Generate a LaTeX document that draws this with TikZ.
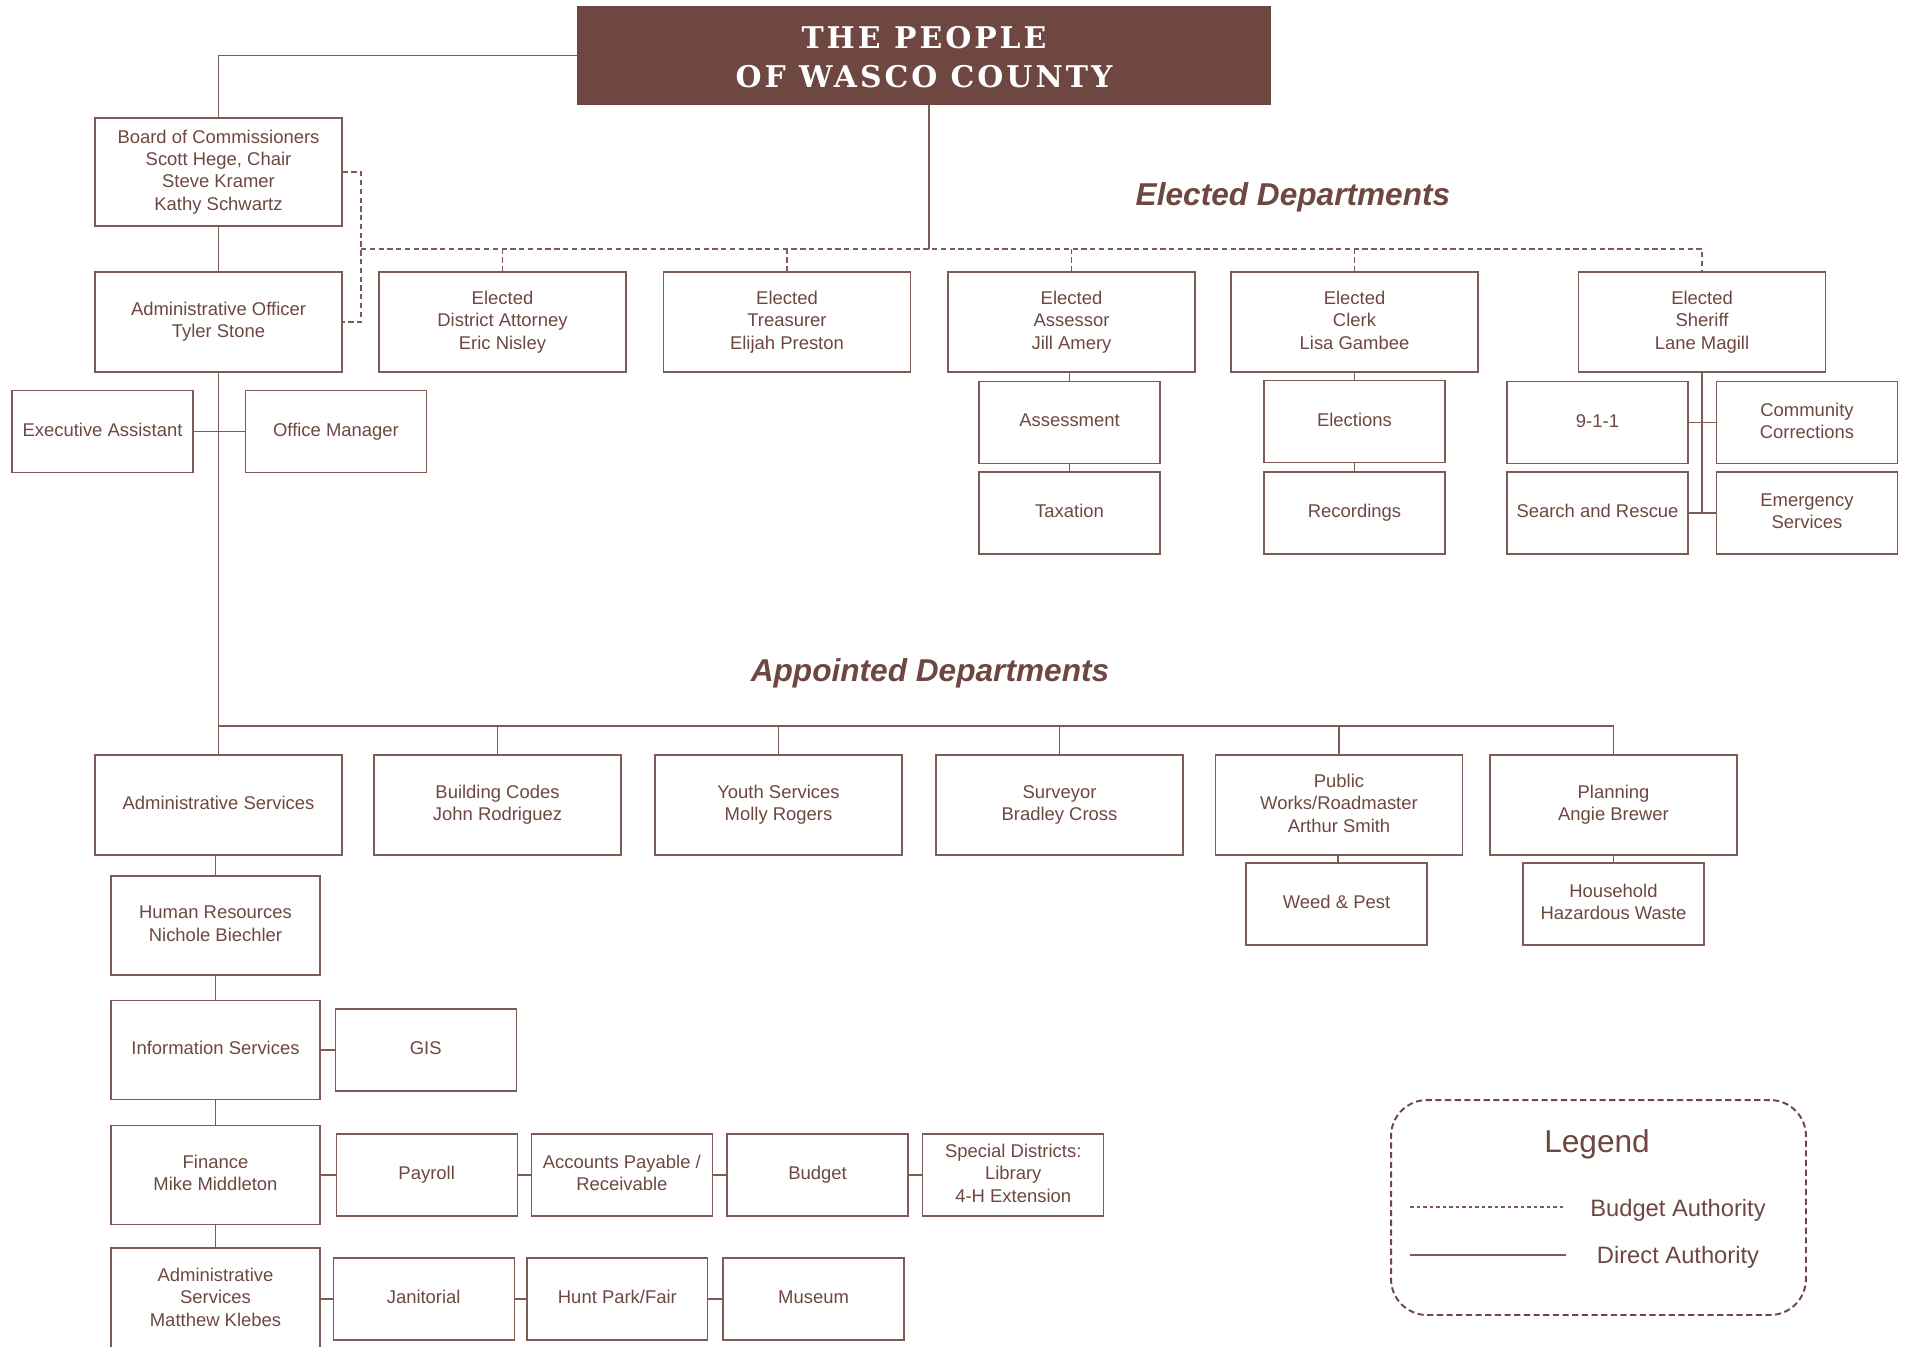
\documentclass[tikz,border=0pt]{standalone}
\usepackage{fontspec}
\setmainfont{Liberation Sans}
\newfontfamily\titlefont[LetterSpace=10]{DejaVu Serif}
\usetikzlibrary{positioning}
\definecolor{wbrown}{RGB}{110,71,65}
\definecolor{wline}{RGB}{125,92,86}
\tikzset{>=stealth,
  dept/.style={draw=wline,line width=0.7pt,text=wbrown,align=center,
    font=\fontsize{10.5}{12.7}\selectfont,minimum width=4.94cm,minimum height=2cm,inner sep=0pt,
    execute at end node=\vphantom{g}},
  unit/.style={dept,minimum width=3.62cm,minimum height=1.64cm},
  staff/.style={dept,minimum width=4.18cm,minimum height=1.98cm},
  direct/.style={draw=wline,line width=0.6pt},
  budget/.style={draw=wline,line width=0.6pt,dash pattern=on 3pt off 2pt},
  heading/.style={text=wbrown,font=\fontsize{18}{21}\selectfont\bfseries\itshape},
  legendtext/.style={text=wbrown,font=\fontsize{13.5}{16}\selectfont}}
\begin{document}
\begin{tikzpicture}[x=0.02cm,y=-0.02cm]
\useasboundingbox (0,0) rectangle (1906,1346);
\node[fill=wbrown,minimum width=13.88cm,minimum height=1.98cm,text=white,align=center,
  font=\titlefont\fontsize{17}{22.5}\selectfont\bfseries] (people) at (924,55.5) {\rule{0pt}{14.4pt}THE PEOPLE\\OF WASCO COUNTY};

\node[dept,minimum height=2.16cm] (board) at (218.5,172) {Board of Commissioners\\Scott Hege, Chair\\Steve Kramer\\Kathy Schwartz};
\node[dept] (officer) at (218.5,322) {Administrative Officer\\Tyler Stone};
\node[dept] (da) at (502.5,322) {Elected\\District Attorney\\Eric Nisley};
\node[dept] (treasurer) at (787,322) {Elected\\Treasurer\\Elijah Preston};
\node[dept] (assessor) at (1071.5,322) {Elected\\Assessor\\Jill Amery};
\node[dept] (clerk) at (1354.5,322) {Elected\\Clerk\\Lisa Gambee};
\node[dept] (sheriff) at (1702,322) {Elected\\Sheriff\\Lane Magill};

\node[unit] (assessment) at (1069.5,422.5) {Assessment};
\node[unit] (taxation) at (1069.5,513) {Taxation};
\node[unit] (elections) at (1354.5,421.5) {Elections};
\node[unit] (recordings) at (1354.5,513) {Recordings};
\node[unit] (e911) at (1597.5,422.5) {9-1-1};
\node[unit] (corrections) at (1807,422.5) {Community\\Corrections};
\node[unit] (rescue) at (1597.5,513) {Search and Rescue};
\node[unit] (emergency) at (1807,513) {Emergency\\Services};
\node[unit] (exec) at (102.5,431.5) {Executive Assistant};
\node[unit] (office) at (336,431.5) {Office Manager};

\node[heading] (elected) at (1293,197.5) {Elected Departments};
\node[heading] (appointed) at (930,673.5) {Appointed Departments};

\node[dept] (adminsvc) at (218.5,805) {Administrative Services};
\node[dept] (building) at (497.5,805) {Building Codes\\John Rodriguez};
\node[dept] (youth) at (778.5,805) {Youth Services\\Molly Rogers};
\node[dept] (surveyor) at (1059.5,805) {Surveyor\\Bradley Cross};
\node[dept] (works) at (1339,805) {Public\\Works/Roadmaster\\Arthur Smith};
\node[dept] (planning) at (1613.5,805) {Planning\\Angie Brewer};
\node[unit] (weed) at (1336.5,904) {Weed \& Pest};
\node[unit] (hhw) at (1613.5,904) {Household\\Hazardous Waste};

\node[staff] (hr) at (215.5,925.5) {Human Resources\\Nichole Biechler};
\node[staff] (infosvc) at (215.5,1050) {Information Services};
\node[staff] (finance) at (215.5,1175) {Finance\\Mike Middleton};
\node[staff,minimum height=2.04cm] (klebes) at (215.5,1299) {Administrative\\Services\\Matthew Klebes};
\node[unit,right=0.28cm of infosvc] (gis) {GIS};
\node[unit,right=0.3cm of finance] (payroll) {Payroll};
\node[unit,right=0.26cm of payroll] (payable) {Accounts Payable /\\Receivable};
\node[unit,right=0.27cm of payable] (budgetoffice) {Budget};
\node[unit,right=0.27cm of budgetoffice] (districts) {Special Districts:\\Library\\4-H Extension};
\node[unit,right=0.24cm of klebes] (janitorial) {Janitorial};
\node[unit,right=0.23cm of janitorial] (huntpark) {Hunt Park/Fair};
\node[unit,right=0.28cm of huntpark] (museum) {Museum};

\coordinate (ebus) at (361,249);
\coordinate (abus) at (218.5,726);
\draw[direct] (people.west) -| (board.north);
\draw[direct] ([xshift=0.1cm]people.south) -- ([xshift=0.1cm]people.south |- ebus);
\draw[budget] (board.east) -| (ebus) |- (officer.east);
\draw[budget] (ebus) -| (sheriff.north);
\foreach \d in {da,treasurer,assessor,clerk}
  \draw[budget] (\d.north) -- (\d.north |- ebus);
\draw[direct] (board) -- (officer);
\draw[direct] (assessment) -- (assessment |- assessor.south);
\draw[direct] (assessment) -- (taxation);
\draw[direct] (clerk) -- (elections) -- (recordings);
\draw[direct] (sheriff.south) -- (sheriff.south |- rescue.east);
\draw[direct] (e911) -- (corrections);
\draw[direct] (rescue) -- (emergency);
\draw[direct] (exec) -- (office);
\draw[direct] (officer) -- (adminsvc);
\draw[direct] (abus) -| (planning.north);
\foreach \d in {building,youth,surveyor,works}
  \draw[direct] (\d.north) -- (\d.north |- abus);
\draw[direct] ([xshift=0.03cm]weed.north) -- ([xshift=0.03cm]weed.north |- works.south);
\draw[direct] (planning) -- (hhw);
\draw[direct] (hr.north) -- (hr.north |- adminsvc.south);
\draw[direct] (hr) -- (infosvc) -- (finance) -- (klebes);
\draw[direct] (infosvc) -- (gis);
\draw[direct] (finance) -- (payroll) -- (payable) -- (budgetoffice) -- (districts);
\draw[direct] (klebes) -- (janitorial) -- (huntpark) -- (museum);

\node[draw=wbrown,line width=1.1pt,dash pattern=on 3.5pt off 2pt,rounded corners=0.72cm,
  minimum width=8.3cm,minimum height=4.3cm] (legendbox) at (1598.5,1207.5) {};
\node[text=wbrown,font=\fontsize{18}{21}\selectfont] (legend) at (1597,1144) {Legend};
\node[legendtext] (budgetlbl) at (1678,1210) {Budget Authority};
\node[legendtext] (directlbl) at (1678,1257.5) {Direct Authority};
\coordinate (b0) at (1410,1207);
\coordinate (b1) at (1566,1207);
\coordinate (d0) at (1410,1255);
\coordinate (d1) at (1566,1255);
\draw[budget,dash pattern=on 2pt off 1.7pt] (b0) -- (b1);
\draw[direct] (d0) -- (d1);
\end{tikzpicture}
\end{document}
